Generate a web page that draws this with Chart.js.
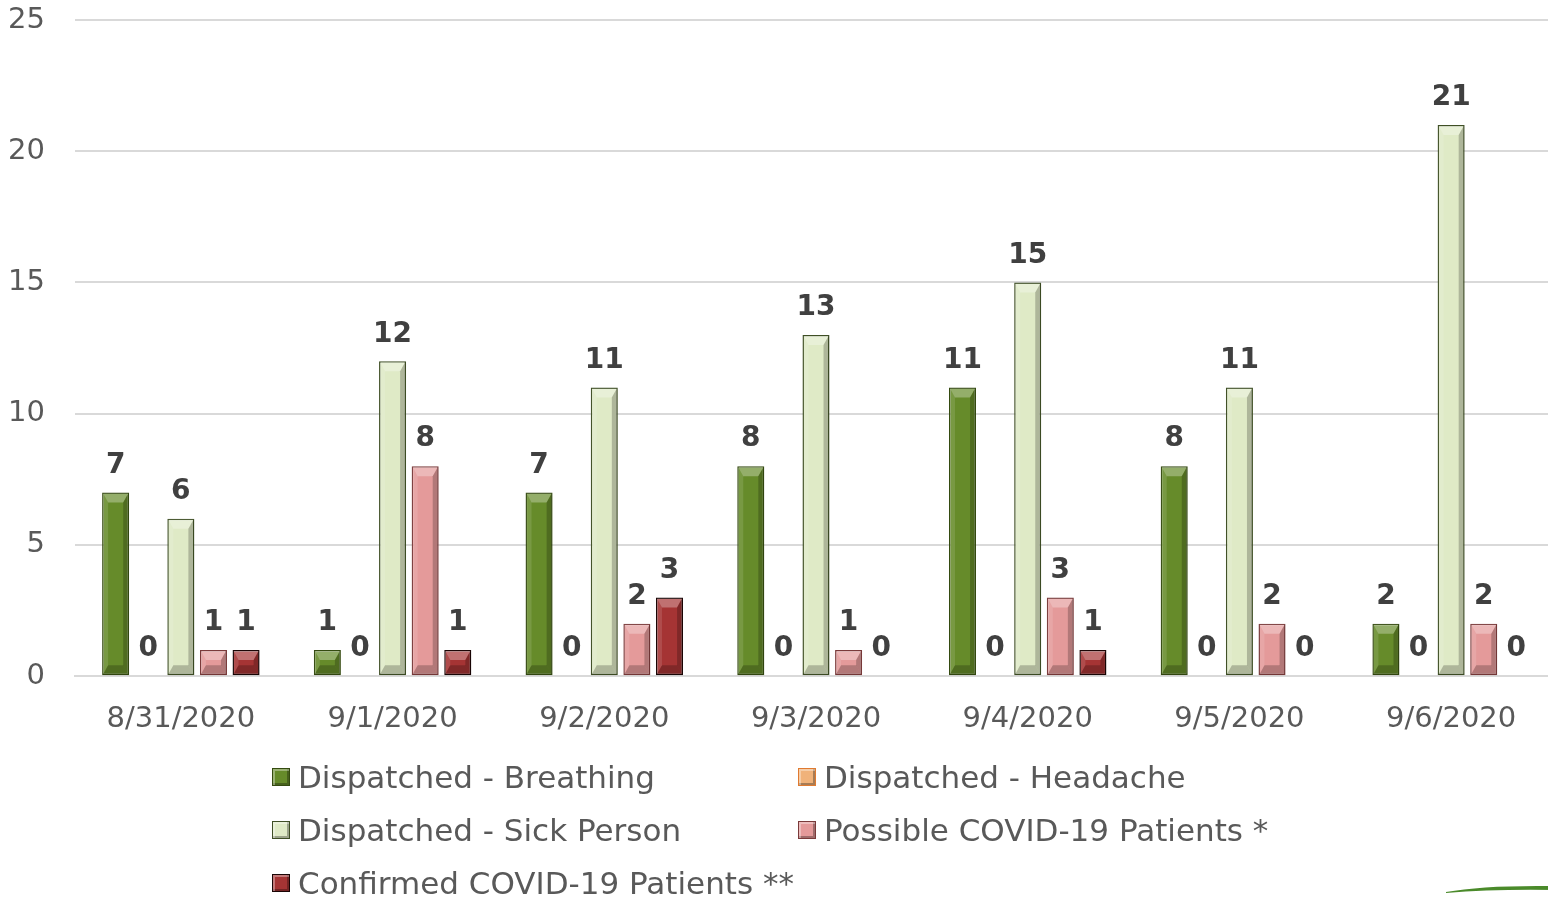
<!DOCTYPE html>
<html>
<head>
<meta charset="utf-8">
<script src="https://cdn.jsdelivr.net/npm/chart.js@4"></script>
<style>
  html, body { margin: 0; padding: 0; background: #fff; overflow: hidden; }
  .wrap { position: relative; width: 1560px; height: 899px; }
  .legend { position: absolute; left: 272px; top: 758px; display: grid;
    grid-template-columns: 526px 500px; row-gap: 15px;
    font-family: "DejaVu Sans", sans-serif; font-size: 31px; color: #595959; }
  .legend div { display: flex; align-items: center; height: 38px; white-space: nowrap; }
  .legend span.box { width: 18px; height: 18px; margin-right: 8px; box-sizing: border-box;
    border: 1px solid #333; box-shadow: inset 2px 2px 0 rgba(255,255,255,0.35), inset -2px -2px 0 rgba(0,0,0,0.3); }
  .swoosh { position: absolute; left: 1444px; top: 884px; }
</style>
</head>
<body>
<div class="wrap">
  <canvas class="grafico" width="1560" height="899"></canvas>
  <div class="legend"></div>
  <svg class="swoosh" width="110" height="14"><path d="M2 8 Q40 1 110 2 L110 6 Q50 5 2 9 Z" fill="#4a8a2a"/></svg>
</div>
<script>
const canvas = document.querySelector('.grafico');
const legendBox = document.querySelector('.legend');

const fechas = ['8/31/2020', '9/1/2020', '9/2/2020', '9/3/2020', '9/4/2020', '9/5/2020', '9/6/2020'];
const breathing = [7, 1, 7, 8, 11, 8, 2];
const headache = [0, 0, 0, 0, 0, 0, 0];
const sickPerson = [6, 12, 11, 13, 15, 11, 21];
const possible = [1, 8, 2, 1, 3, 2, 2];
const confirmed = [1, 1, 3, 0, 1, 0, 0];
const yTicks = [0, 5, 10, 15, 20, 25];

const series = [
    { label: 'Dispatched - Breathing', data: breathing, color: '#668b2a', border: '#344a10' },
    { label: 'Dispatched - Headache', data: headache, color: '#f0b27a', border: '#e07a30' },
    { label: 'Dispatched - Sick Person', data: sickPerson, color: '#dfeac6', border: '#3f4f25' },
    { label: 'Possible COVID-19 Patients *', data: possible, color: '#e49a9a', border: '#7a3a3a' },
    { label: 'Confirmed COVID-19 Patients **', data: confirmed, color: '#a53434', border: '#1a0505' },
];

// bisel de las barras
const bevelPlugin = {
    id: 'bevel',
    afterDatasetsDraw(chart) {
        const ctx = chart.ctx;
        chart.data.datasets.forEach((ds, i) => {
            chart.getDatasetMeta(i).data.forEach((bar) => {
                const p = bar.getProps(['x', 'y', 'width', 'base'], true);
                const h = p.base - p.y;
                if (h < 2) return;
                const l = p.x - p.width / 2 + 1, r = p.x + p.width / 2 - 1;
                const t = p.y + 1, b = p.base - 1;
                const d = Math.min(9, h / 2), s = 5;
                ctx.save();
                ctx.fillStyle = 'rgba(255,255,255,0.30)';
                ctx.beginPath();
                ctx.moveTo(l, t); ctx.lineTo(r, t); ctx.lineTo(r - s, t + d); ctx.lineTo(l + s, t + d);
                ctx.closePath(); ctx.fill();
                ctx.fillStyle = 'rgba(255,255,255,0.12)';
                ctx.beginPath();
                ctx.moveTo(l, t); ctx.lineTo(l + s, t + d); ctx.lineTo(l + s, b - d); ctx.lineTo(l, b);
                ctx.closePath(); ctx.fill();
                ctx.fillStyle = 'rgba(0,0,0,0.22)';
                ctx.beginPath();
                ctx.moveTo(r, t); ctx.lineTo(r - s, t + d); ctx.lineTo(r - s, b - d); ctx.lineTo(r, b);
                ctx.closePath(); ctx.fill();
                ctx.fillStyle = 'rgba(0,0,0,0.22)';
                ctx.beginPath();
                ctx.moveTo(l, b); ctx.lineTo(r, b); ctx.lineTo(r - s, b - d); ctx.lineTo(l + s, b - d);
                ctx.closePath(); ctx.fill();
                ctx.restore();
            });
        });
    }
};

const labelsPlugin = {
    id: 'valores',
    afterDatasetsDraw(chart) {
        const ctx = chart.ctx;
        ctx.save();
        ctx.font = 'bold 28px "DejaVu Sans"';
        ctx.fillStyle = '#404040';
        ctx.textAlign = 'center';
        ctx.textBaseline = 'bottom';
        chart.data.datasets.forEach((ds, i) => {
            chart.getDatasetMeta(i).data.forEach((bar, j) => {
                ctx.fillText(ds.data[j], bar.x, bar.y - 13);
            });
        });
        ctx.restore();
    }
};

const config = {
    type: 'bar',
    data: {
        labels: fechas,
        datasets: series.map((s) => ({
            label: s.label,
            data: s.data,
            backgroundColor: s.color,
            borderColor: s.border,
            borderWidth: (c) => (c.raw === 0 ? 0 : 1.5),
            borderSkipped: false,
            barPercentage: 0.83,
            categoryPercentage: 0.77,
        }))
    },
    options: {
        responsive: false,
        animation: false,
        layout: { padding: { top: 20, bottom: 144, right: 3, left: 0 } },
        plugins: { legend: { display: false }, tooltip: { enabled: false } },
        scales: {
            x: {
                grid: { display: false },
                border: { color: '#d9d9d9', width: 2 },
                ticks: { color: '#595959', font: { family: 'DejaVu Sans', size: 29 }, padding: 18 },
                afterFit: (axis) => { axis.paddingLeft = 0; axis.paddingRight = 0; }
            },
            y: {
                min: 0, max: 25,
                afterBuildTicks: (axis) => { axis.ticks = yTicks.map((v) => ({ value: v })); },
                afterFit: (axis) => { axis.width = 75; axis.paddingTop = 0; axis.paddingBottom = 0; },
                grid: { color: '#d9d9d9', lineWidth: 2, drawTicks: false },
                border: { display: false },
                ticks: { color: '#595959', font: { family: 'DejaVu Sans', size: 29 }, padding: 30 }
            }
        }
    },
    plugins: [bevelPlugin, labelsPlugin]
};

new Chart(canvas, config);

series.forEach((s) => {
    const item = document.createElement('div');
    item.innerHTML = `<span class="box" style="background:${s.color};border-color:${s.border}"></span>${s.label}`;
    legendBox.appendChild(item);
});
</script>
</body>
</html>
